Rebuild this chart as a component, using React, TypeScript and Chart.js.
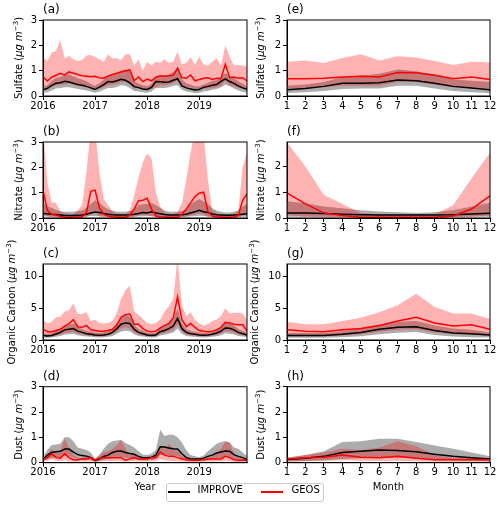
import React, { useEffect, useRef } from 'react';
import { Chart, registerables } from 'chart.js';

Chart.register(...registerables);

const FONT = "'DejaVu Sans', 'Liberation Sans', sans-serif";

// ---------- categories & ticks ----------
const seriesNames = ['IMPROVE', 'GEOS'];
const panelLabels = ['(a)', '(b)', '(c)', '(d)', '(e)', '(f)', '(g)', '(h)'];
const speciesNames = ['Sulfate', 'Nitrate', 'Organic Carbon', 'Dust'];
const xAxisTitles = ['Year', 'Month'];
const yearTicks = [2016, 2017, 2018, 2019];
const monthTicks = [1, 2, 3, 4, 5, 6, 7, 8, 9, 10, 11, 12];
const climMonths = [1, 2, 3, 4, 5, 6, 7, 8, 9, 10, 11, 12];
// monthly time axis Jan 2016 ... Dec 2019 (decimal years)
const monthlyYears = Array.from({ length: 48 }, (_, i) => 2016 + i / 12);
const ticks0to3 = [0, 1, 2, 3];
const ticks0to2 = [0, 1, 2];
const ticksOC = [0, 5, 10];

// ---------- (a) Sulfate monthly ----------
const sulfImpMed = [
  0.25, 0.30, 0.42, 0.50, 0.52, 0.58, 0.55, 0.50, 0.45, 0.42, 0.38, 0.32,
  0.26, 0.35, 0.45, 0.57, 0.55, 0.60, 0.66, 0.62, 0.52, 0.37, 0.33, 0.28,
  0.26, 0.34, 0.57, 0.56, 0.54, 0.55, 0.62, 0.68, 0.40, 0.32, 0.28, 0.24,
  0.26, 0.34, 0.38, 0.42, 0.45, 0.58, 0.68, 0.57, 0.50, 0.40, 0.32, 0.26,
];
const sulfImpLo = [
  0.12, 0.15, 0.22, 0.30, 0.32, 0.35, 0.35, 0.32, 0.28, 0.25, 0.22, 0.18,
  0.13, 0.18, 0.25, 0.32, 0.32, 0.36, 0.42, 0.40, 0.32, 0.20, 0.18, 0.15,
  0.13, 0.18, 0.32, 0.32, 0.32, 0.35, 0.40, 0.42, 0.25, 0.18, 0.15, 0.12,
  0.13, 0.18, 0.20, 0.25, 0.28, 0.35, 0.45, 0.38, 0.30, 0.22, 0.17, 0.13,
];
const sulfImpHi = [
  0.38, 0.42, 0.60, 0.72, 0.75, 0.85, 0.85, 0.78, 0.70, 0.65, 0.58, 0.48,
  0.40, 0.50, 0.65, 0.80, 0.80, 0.90, 1.00, 1.05, 0.95, 0.58, 0.50, 0.42,
  0.38, 0.48, 0.78, 0.80, 0.82, 0.85, 0.95, 1.05, 0.65, 0.50, 0.45, 0.38,
  0.38, 0.45, 0.52, 0.60, 0.62, 0.75, 0.90, 0.80, 0.72, 0.58, 0.48, 0.38,
];
const sulfGeosMed = [
  0.76, 0.59, 0.74, 0.82, 0.90, 0.83, 0.95, 0.90, 0.85, 0.80, 0.78, 0.76,
  0.78, 0.72, 0.70, 0.79, 0.85, 0.90, 0.95, 1.00, 1.03, 0.60, 0.75, 0.57,
  0.67, 0.60, 0.74, 0.80, 0.78, 0.80, 0.82, 1.10, 0.72, 0.70, 0.83, 0.60,
  0.65, 0.70, 0.72, 0.65, 0.70, 0.68, 1.25, 0.72, 0.75, 0.70, 0.72, 0.60,
];
const sulfGeosLo = [
  0.28, 0.25, 0.35, 0.42, 0.45, 0.45, 0.50, 0.45, 0.40, 0.38, 0.35, 0.32,
  0.30, 0.30, 0.35, 0.42, 0.45, 0.48, 0.55, 0.55, 0.50, 0.30, 0.32, 0.25,
  0.28, 0.28, 0.35, 0.42, 0.42, 0.45, 0.50, 0.60, 0.40, 0.32, 0.35, 0.25,
  0.28, 0.30, 0.30, 0.32, 0.35, 0.38, 0.60, 0.42, 0.38, 0.32, 0.30, 0.25,
];
const sulfGeosHi = [
  1.53, 1.38, 1.72, 1.78, 2.20, 1.48, 1.58, 1.45, 1.38, 1.42, 1.60, 1.62,
  1.55, 1.45, 1.35, 1.65, 1.48, 1.50, 1.40, 1.65, 1.65, 1.20, 1.45, 1.00,
  1.35, 1.20, 1.35, 1.30, 1.45, 1.30, 1.35, 1.75, 1.25, 1.30, 1.52, 1.22,
  1.55, 1.25, 1.20, 1.35, 1.50, 1.20, 2.00, 1.55, 1.20, 1.22, 1.20, 1.15,
];

// ---------- (b) Nitrate monthly ----------
const nitImpMed = [
  0.18, 0.17, 0.15, 0.14, 0.12, 0.10, 0.10, 0.10, 0.11, 0.12, 0.15, 0.20,
  0.24, 0.22, 0.18, 0.15, 0.13, 0.12, 0.12, 0.12, 0.13, 0.15, 0.18, 0.22,
  0.20, 0.25, 0.20, 0.17, 0.14, 0.12, 0.12, 0.12, 0.13, 0.15, 0.20, 0.25,
  0.30, 0.25, 0.22, 0.16, 0.13, 0.12, 0.11, 0.11, 0.12, 0.13, 0.15, 0.17,
];
const nitImpLo = [
  0.06, 0.06, 0.05, 0.05, 0.04, 0.03, 0.03, 0.03, 0.04, 0.05, 0.06, 0.08,
  0.08, 0.07, 0.06, 0.05, 0.04, 0.03, 0.03, 0.03, 0.04, 0.05, 0.06, 0.07,
  0.07, 0.08, 0.06, 0.05, 0.04, 0.03, 0.03, 0.03, 0.04, 0.05, 0.06, 0.08,
  0.09, 0.08, 0.06, 0.05, 0.04, 0.03, 0.03, 0.03, 0.04, 0.04, 0.05, 0.06,
];
const nitImpHi = [
  0.60, 0.45, 0.40, 0.32, 0.28, 0.25, 0.25, 0.25, 0.28, 0.30, 0.40, 0.55,
  0.70, 0.60, 0.45, 0.35, 0.30, 0.25, 0.25, 0.25, 0.28, 0.35, 0.50, 0.55,
  0.55, 0.60, 0.50, 0.40, 0.30, 0.25, 0.25, 0.25, 0.28, 0.35, 0.55, 0.65,
  0.75, 0.65, 0.55, 0.38, 0.30, 0.25, 0.22, 0.22, 0.25, 0.30, 0.45, 0.55,
];
const nitGeosMed = [
  1.10, 0.30, 0.15, 0.12, 0.06, 0.04, 0.03, 0.03, 0.04, 0.05, 0.20, 1.05,
  1.10, 0.40, 0.15, 0.08, 0.05, 0.04, 0.03, 0.03, 0.10, 0.35, 0.68, 0.70,
  0.78, 0.35, 0.08, 0.05, 0.04, 0.03, 0.03, 0.03, 0.15, 0.35, 0.60, 0.85,
  0.98, 1.02, 0.25, 0.08, 0.05, 0.04, 0.03, 0.03, 0.04, 0.10, 0.70, 0.95,
];
const nitGeosLo = [
  0.20, 0.05, 0.03, 0.02, 0.01, 0.01, 0.01, 0.01, 0.01, 0.01, 0.03, 0.15,
  0.20, 0.06, 0.03, 0.02, 0.01, 0.01, 0.01, 0.01, 0.02, 0.05, 0.10, 0.12,
  0.12, 0.06, 0.02, 0.01, 0.01, 0.01, 0.01, 0.01, 0.02, 0.05, 0.10, 0.15,
  0.18, 0.15, 0.04, 0.02, 0.01, 0.01, 0.01, 0.01, 0.01, 0.02, 0.10, 0.15,
];
const nitGeosHi = [
  3.50, 1.40, 0.60, 0.60, 0.25, 0.18, 0.15, 0.15, 0.30, 0.50, 1.80, 3.50,
  3.50, 1.80, 0.75, 0.50, 0.25, 0.18, 0.15, 0.15, 0.30, 0.90, 1.60, 2.20,
  2.55, 2.35, 1.00, 0.45, 0.22, 0.18, 0.15, 0.25, 0.60, 1.50, 2.60, 3.40,
  3.60, 3.30, 1.50, 0.30, 0.20, 0.15, 0.15, 0.15, 0.15, 0.30, 2.00, 2.60,
];

// ---------- (c) Organic carbon monthly ----------
const ocImpMed = [
  0.70, 0.65, 0.70, 0.95, 1.20, 1.60, 1.70, 1.80, 1.40, 1.20, 1.00, 0.90,
  0.80, 0.75, 0.80, 0.90, 1.20, 1.80, 2.50, 2.70, 2.60, 1.70, 1.20, 1.00,
  0.80, 0.70, 0.80, 1.30, 1.50, 1.80, 2.20, 3.40, 1.80, 1.20, 1.00, 0.90,
  0.80, 0.75, 0.80, 0.90, 1.10, 1.40, 1.90, 1.85, 1.60, 1.20, 1.00, 0.80,
];
const ocImpLo = [
  0.38, 0.35, 0.38, 0.52, 0.65, 0.88, 0.92, 0.98, 0.75, 0.65, 0.55, 0.50,
  0.45, 0.40, 0.45, 0.50, 0.65, 1.00, 1.35, 1.45, 1.40, 0.92, 0.65, 0.55,
  0.45, 0.38, 0.45, 0.70, 0.82, 1.00, 1.20, 1.80, 1.00, 0.65, 0.55, 0.50,
  0.45, 0.40, 0.45, 0.50, 0.60, 0.75, 1.05, 1.00, 0.88, 0.65, 0.55, 0.45,
];
const ocImpHi = [
  1.05, 1.00, 1.05, 1.40, 1.75, 2.30, 2.45, 2.60, 2.05, 1.75, 1.45, 1.30,
  1.20, 1.10, 1.20, 1.30, 1.75, 2.60, 3.60, 3.90, 3.70, 2.45, 1.75, 1.45,
  1.20, 1.05, 1.20, 1.90, 2.20, 2.60, 3.20, 5.00, 2.60, 1.75, 1.45, 1.30,
  1.20, 1.10, 1.20, 1.30, 1.60, 2.00, 2.70, 2.65, 2.30, 1.75, 1.45, 1.20,
];
const ocGeosMed = [
  1.70, 1.30, 1.30, 1.50, 1.70, 2.20, 2.60, 3.20, 2.10, 2.00, 2.30, 1.60,
  1.50, 1.40, 1.40, 1.50, 1.70, 2.40, 3.60, 4.00, 4.10, 2.50, 2.50, 1.80,
  1.40, 1.30, 1.40, 1.90, 2.30, 2.60, 3.50, 6.80, 3.20, 2.10, 2.60, 2.00,
  1.50, 1.40, 1.30, 1.40, 1.60, 2.00, 2.80, 2.70, 2.50, 2.40, 2.40, 1.40,
];
const ocGeosLo = [
  0.55, 0.50, 0.55, 0.70, 0.90, 1.10, 1.20, 1.30, 1.00, 0.90, 0.75, 0.65,
  0.60, 0.55, 0.60, 0.70, 0.90, 1.30, 1.80, 2.00, 1.90, 1.20, 0.90, 0.75,
  0.60, 0.55, 0.60, 0.95, 1.10, 1.30, 1.60, 2.50, 1.30, 0.90, 0.75, 0.65,
  0.60, 0.55, 0.60, 0.70, 0.80, 1.00, 1.40, 1.35, 1.20, 0.90, 0.75, 0.60,
];
const ocGeosHi = [
  3.20, 2.60, 2.90, 3.60, 3.70, 4.50, 4.70, 5.80, 4.10, 4.10, 4.40, 3.00,
  3.20, 2.70, 2.60, 2.70, 3.00, 4.30, 6.50, 7.80, 8.60, 4.50, 4.00, 3.30,
  2.70, 2.50, 2.70, 3.20, 4.50, 5.30, 6.50, 13.0, 5.50, 3.80, 4.40, 3.20,
  2.60, 2.30, 2.50, 3.00, 3.20, 3.80, 5.00, 4.20, 4.30, 4.30, 4.20, 3.20,
];

// ---------- (d) Dust monthly ----------
const dustImpMed = [
  0.14, 0.30, 0.40, 0.43, 0.45, 0.54, 0.54, 0.42, 0.32, 0.28, 0.26, 0.20,
  0.08, 0.15, 0.25, 0.30, 0.40, 0.45, 0.46, 0.40, 0.36, 0.33, 0.25, 0.20,
  0.20, 0.22, 0.30, 0.63, 0.62, 0.58, 0.55, 0.54, 0.35, 0.20, 0.16, 0.15,
  0.15, 0.18, 0.25, 0.30, 0.38, 0.42, 0.46, 0.45, 0.32, 0.25, 0.20, 0.12,
];
const dustImpLo = [
  0.07, 0.15, 0.20, 0.22, 0.22, 0.27, 0.27, 0.20, 0.15, 0.13, 0.12, 0.10,
  0.04, 0.07, 0.12, 0.15, 0.20, 0.22, 0.22, 0.20, 0.18, 0.15, 0.12, 0.10,
  0.10, 0.11, 0.15, 0.30, 0.30, 0.28, 0.27, 0.26, 0.17, 0.10, 0.08, 0.07,
  0.07, 0.09, 0.12, 0.15, 0.18, 0.20, 0.22, 0.22, 0.15, 0.12, 0.10, 0.06,
];
const dustImpHi = [
  0.25, 0.50, 0.70, 0.72, 0.75, 1.00, 1.00, 0.85, 0.60, 0.55, 0.50, 0.40,
  0.15, 0.30, 0.55, 0.75, 0.85, 0.88, 0.90, 0.78, 0.70, 0.60, 0.45, 0.32,
  0.30, 0.35, 0.50, 1.30, 1.05, 1.10, 1.10, 1.00, 0.80, 0.50, 0.30, 0.25,
  0.22, 0.28, 0.45, 0.60, 0.75, 0.82, 0.85, 0.80, 0.60, 0.55, 0.40, 0.25,
];
const dustGeosMed = [
  0.12, 0.20, 0.35, 0.20, 0.18, 0.35, 0.20, 0.12, 0.12, 0.15, 0.15, 0.20,
  0.10, 0.18, 0.20, 0.20, 0.20, 0.20, 0.20, 0.10, 0.15, 0.20, 0.15, 0.15,
  0.15, 0.20, 0.20, 0.42, 0.30, 0.25, 0.25, 0.20, 0.15, 0.12, 0.10, 0.10,
  0.10, 0.12, 0.15, 0.15, 0.15, 0.15, 0.25, 0.20, 0.12, 0.10, 0.10, 0.10,
];
const dustGeosLo = [
  0.05, 0.08, 0.15, 0.08, 0.06, 0.10, 0.06, 0.04, 0.04, 0.05, 0.05, 0.06,
  0.04, 0.06, 0.07, 0.07, 0.07, 0.07, 0.07, 0.04, 0.05, 0.07, 0.05, 0.05,
  0.05, 0.07, 0.07, 0.15, 0.10, 0.08, 0.08, 0.07, 0.05, 0.04, 0.03, 0.03,
  0.03, 0.04, 0.05, 0.05, 0.05, 0.05, 0.08, 0.07, 0.04, 0.03, 0.03, 0.03,
];
const dustGeosHi = [
  0.15, 0.30, 0.55, 0.40, 0.50, 0.95, 0.60, 0.30, 0.20, 0.20, 0.25, 0.25,
  0.15, 0.30, 0.40, 0.45, 0.55, 0.70, 0.90, 0.55, 0.30, 0.30, 0.25, 0.20,
  0.20, 0.20, 0.30, 0.60, 0.55, 0.75, 0.55, 0.45, 0.25, 0.20, 0.15, 0.15,
  0.15, 0.15, 0.20, 0.25, 0.35, 0.55, 0.85, 0.80, 0.35, 0.20, 0.15, 0.15,
];

// ---------- (e) Sulfate climatology ----------
const sulfClimImpMed = [0.25, 0.30, 0.38, 0.50, 0.50, 0.52, 0.63, 0.60, 0.50, 0.38, 0.32, 0.25];
const sulfClimImpLo = [0.12, 0.15, 0.20, 0.28, 0.30, 0.30, 0.40, 0.40, 0.30, 0.20, 0.15, 0.12];
const sulfClimImpHi = [0.40, 0.45, 0.55, 0.75, 0.80, 0.88, 1.05, 0.98, 0.85, 0.65, 0.60, 0.55];
const sulfClimGeosMed = [0.68, 0.68, 0.70, 0.75, 0.78, 0.75, 0.93, 0.92, 0.82, 0.68, 0.75, 0.65];
const sulfClimGeosLo = [0.30, 0.30, 0.35, 0.40, 0.40, 0.40, 0.55, 0.55, 0.45, 0.35, 0.35, 0.30];
const sulfClimGeosHi = [1.35, 1.40, 1.30, 1.50, 1.65, 1.40, 1.57, 1.52, 1.38, 1.22, 1.35, 1.32];

// ---------- (f) Nitrate climatology ----------
const nitClimImpMed = [0.20, 0.20, 0.18, 0.15, 0.13, 0.12, 0.12, 0.12, 0.12, 0.13, 0.16, 0.19];
const nitClimImpLo = [0.05, 0.05, 0.05, 0.04, 0.04, 0.03, 0.03, 0.03, 0.03, 0.04, 0.05, 0.05];
const nitClimImpHi = [0.65, 0.58, 0.45, 0.38, 0.30, 0.25, 0.22, 0.20, 0.22, 0.30, 0.45, 0.60];
const nitClimGeosMed = [0.98, 0.55, 0.20, 0.10, 0.03, 0.03, 0.03, 0.03, 0.03, 0.08, 0.35, 0.87];
const nitClimGeosLo = [0.12, 0.05, 0.02, 0.01, 0.01, 0.01, 0.01, 0.01, 0.01, 0.02, 0.05, 0.10];
const nitClimGeosHi = [2.95, 2.00, 0.90, 0.55, 0.20, 0.15, 0.15, 0.15, 0.15, 0.50, 1.55, 2.55];

// ---------- (g) OC climatology ----------
const ocClimImpMed = [0.70, 0.70, 0.70, 0.90, 1.20, 1.70, 2.00, 2.10, 1.50, 1.10, 1.00, 0.80];
const ocClimImpLo = [0.35, 0.35, 0.35, 0.45, 0.60, 0.90, 1.15, 1.25, 0.80, 0.55, 0.45, 0.38];
const ocClimImpHi = [1.10, 1.10, 1.10, 1.40, 1.80, 2.40, 2.90, 3.00, 2.30, 1.80, 1.60, 1.20];
const ocClimGeosMed = [1.60, 1.40, 1.30, 1.60, 1.80, 2.30, 3.00, 3.60, 2.70, 2.20, 2.40, 1.70];
const ocClimGeosLo = [0.60, 0.60, 0.60, 0.70, 0.90, 1.30, 1.60, 1.70, 1.20, 0.90, 0.80, 0.70];
const ocClimGeosHi = [2.90, 2.50, 2.50, 3.00, 3.50, 4.40, 5.50, 7.30, 5.20, 4.20, 4.20, 3.30];

// ---------- (h) Dust climatology ----------
const dustClimImpMed = [0.13, 0.18, 0.25, 0.40, 0.45, 0.50, 0.48, 0.43, 0.33, 0.25, 0.20, 0.15];
const dustClimImpLo = [0.05, 0.07, 0.10, 0.15, 0.18, 0.20, 0.20, 0.18, 0.14, 0.10, 0.08, 0.06];
const dustClimImpHi = [0.20, 0.30, 0.45, 0.82, 0.85, 0.95, 0.95, 0.82, 0.68, 0.55, 0.40, 0.25];
const dustClimGeosMed = [0.15, 0.20, 0.22, 0.30, 0.22, 0.20, 0.25, 0.18, 0.12, 0.12, 0.12, 0.12];
const dustClimGeosLo = [0.05, 0.06, 0.07, 0.10, 0.08, 0.07, 0.08, 0.06, 0.04, 0.04, 0.04, 0.04];
const dustClimGeosHi = [0.20, 0.30, 0.40, 0.55, 0.50, 0.60, 0.85, 0.65, 0.30, 0.20, 0.20, 0.18];

// ---------- styling / layout ----------
const BLACK = '#000000';
const RED = '#ff0000';
const GRAY_FILL = 'rgba(128,128,128,0.65)';
const RED_FILL = 'rgba(255,0,0,0.3)';
const COL_LEFT = [43, 287];
const COL_RIGHT = [247, 490];
const ROW_TOP = [20, 142, 264, 386.7];
const PLOT_H = 76;
const YAXIS_W = 30;
const XAXIS_H = 20;
const W = 500;
const H = 506;

type Panel = {
  row: number;
  col: number;
  xs: number[];
  xTicks: number[];
  xMin: number;
  xMax: number;
  yMax: number;
  yTicks: number[];
  impMed: number[];
  impLo: number[];
  impHi: number[];
  geosMed: number[];
  geosLo: number[];
  geosHi: number[];
};

const panels: Panel[] = [
  { row: 0, col: 0, xs: monthlyYears, xTicks: yearTicks, xMin: 2016, xMax: 2016 + 47 / 12, yMax: 3, yTicks: ticks0to3,
    impMed: sulfImpMed, impLo: sulfImpLo, impHi: sulfImpHi, geosMed: sulfGeosMed, geosLo: sulfGeosLo, geosHi: sulfGeosHi },
  { row: 1, col: 0, xs: monthlyYears, xTicks: yearTicks, xMin: 2016, xMax: 2016 + 47 / 12, yMax: 3, yTicks: ticks0to3,
    impMed: nitImpMed, impLo: nitImpLo, impHi: nitImpHi, geosMed: nitGeosMed, geosLo: nitGeosLo, geosHi: nitGeosHi },
  { row: 2, col: 0, xs: monthlyYears, xTicks: yearTicks, xMin: 2016, xMax: 2016 + 47 / 12, yMax: 12, yTicks: ticksOC,
    impMed: ocImpMed, impLo: ocImpLo, impHi: ocImpHi, geosMed: ocGeosMed, geosLo: ocGeosLo, geosHi: ocGeosHi },
  { row: 3, col: 0, xs: monthlyYears, xTicks: yearTicks, xMin: 2016, xMax: 2016 + 47 / 12, yMax: 3, yTicks: ticks0to3,
    impMed: dustImpMed, impLo: dustImpLo, impHi: dustImpHi, geosMed: dustGeosMed, geosLo: dustGeosLo, geosHi: dustGeosHi },
  { row: 0, col: 1, xs: climMonths, xTicks: monthTicks, xMin: 1, xMax: 12, yMax: 3, yTicks: ticks0to3,
    impMed: sulfClimImpMed, impLo: sulfClimImpLo, impHi: sulfClimImpHi, geosMed: sulfClimGeosMed, geosLo: sulfClimGeosLo, geosHi: sulfClimGeosHi },
  { row: 1, col: 1, xs: climMonths, xTicks: monthTicks, xMin: 1, xMax: 12, yMax: 2.97, yTicks: ticks0to2,
    impMed: nitClimImpMed, impLo: nitClimImpLo, impHi: nitClimImpHi, geosMed: nitClimGeosMed, geosLo: nitClimGeosLo, geosHi: nitClimGeosHi },
  { row: 2, col: 1, xs: climMonths, xTicks: monthTicks, xMin: 1, xMax: 12, yMax: 12, yTicks: ticksOC,
    impMed: ocClimImpMed, impLo: ocClimImpLo, impHi: ocClimImpHi, geosMed: ocClimGeosMed, geosLo: ocClimGeosLo, geosHi: ocClimGeosHi },
  { row: 3, col: 1, xs: climMonths, xTicks: monthTicks, xMin: 1, xMax: 12, yMax: 3, yTicks: ticks0to3,
    impMed: dustClimImpMed, impLo: dustClimImpLo, impHi: dustClimImpHi, geosMed: dustClimGeosMed, geosLo: dustClimGeosLo, geosHi: dustClimGeosHi },
];

function makeDecor(p: Panel, index: number) {
  return {
    id: 'decor' + index,
    afterDraw(chart: any) {
      const { ctx, chartArea: a } = chart;
      ctx.save();
      ctx.strokeStyle = BLACK;
      ctx.lineWidth = 1;
      ctx.strokeRect(a.left, a.top, a.right - a.left, a.bottom - a.top);

      ctx.fillStyle = BLACK;
      ctx.font = `12px ${FONT}`;
      ctx.textAlign = 'left';
      ctx.textBaseline = 'middle';
      ctx.fillText(panelLabels[index], a.left, a.top - 10);

      // y-axis title with mathtext-like unit
      const parts = [
        { t: speciesNames[p.row] + ' (', f: `10px ${FONT}`, dy: 0 },
        { t: 'μg m', f: `italic 10px ${FONT}`, dy: 0 },
        { t: '−3', f: `7px ${FONT}`, dy: -4 },
        { t: ')', f: `10px ${FONT}`, dy: 0 },
      ];
      let total = 0;
      const widths = parts.map((pt) => {
        ctx.font = pt.f;
        const w = ctx.measureText(pt.t).width;
        total += w;
        return w;
      });
      const offset = (p.col === 0 ? 25 : 26.5) + (p.yMax > 5 ? 6.5 : 0);
      const cx = a.left - offset;
      const cy = (a.top + a.bottom) / 2;
      ctx.translate(cx, cy);
      ctx.rotate(-Math.PI / 2);
      ctx.textAlign = 'left';
      ctx.textBaseline = 'alphabetic';
      let x = -total / 2;
      parts.forEach((pt, i) => {
        ctx.font = pt.f;
        ctx.fillText(pt.t, x, 3.5 + pt.dy);
        x += widths[i];
      });
      ctx.setTransform(1, 0, 0, 1, 0, 0);

      if (p.row === 3) {
        ctx.font = `10px ${FONT}`;
        ctx.textAlign = 'center';
        ctx.textBaseline = 'middle';
        ctx.fillText(xAxisTitles[p.col], (a.left + a.right) / 2, a.bottom + 24.5);
      }
      ctx.restore();
    },
  };
}

const pts = (xs: number[], ys: number[]) => xs.map((x, i) => ({ x, y: ys[i] }));

function axisCommon(min: number, max: number, tickVals: number[], isX: boolean) {
  return {
    type: 'linear' as const,
    min,
    max,
    afterBuildTicks: (s: any) => {
      s.ticks = tickVals.map((v) => ({ value: v }));
    },
    afterFit: (s: any) => {
      if (isX) s.height = XAXIS_H;
      else s.width = YAXIS_W;
    },
    grid: { display: true, drawOnChartArea: false, drawTicks: true, tickLength: 4, color: BLACK, lineWidth: 1 },
    border: { display: true, color: BLACK, width: 1 },
    ticks: {
      padding: isX ? 1 : 2,
      color: BLACK,
      autoSkip: false,
      maxRotation: 0,
      font: { family: FONT, size: 10, lineHeight: 1 },
      callback: (v: any) => String(v),
    },
  };
}

function PanelChart({ p, index }: { p: Panel; index: number }) {
  const ref = useRef<HTMLCanvasElement>(null);
  useEffect(() => {
    const canvas = ref.current;
    if (!canvas) return;
    const top = ROW_TOP[p.row];
    const bottom = top + PLOT_H;
    const hidden = 'rgba(0,0,0,0)';
    const chart = new Chart(canvas, {
      type: 'line',
      data: {
        datasets: [
          { label: 'impLo', data: pts(p.xs, p.impLo), borderColor: hidden, borderWidth: 1, pointRadius: 0, fill: false, order: 3 },
          { label: 'impHi', data: pts(p.xs, p.impHi), borderColor: hidden, borderWidth: 1, pointRadius: 0, backgroundColor: GRAY_FILL, fill: '-1', order: 3 },
          { label: 'geosLo', data: pts(p.xs, p.geosLo), borderColor: hidden, borderWidth: 1, pointRadius: 0, fill: false, order: 2 },
          { label: 'geosHi', data: pts(p.xs, p.geosHi), borderColor: hidden, borderWidth: 1, pointRadius: 0, backgroundColor: RED_FILL, fill: '-1', order: 2 },
          { label: seriesNames[0], data: pts(p.xs, p.impMed), borderColor: BLACK, borderWidth: 1.5, pointRadius: 0, fill: false, order: 1 },
          { label: seriesNames[1], data: pts(p.xs, p.geosMed), borderColor: RED, borderWidth: 1.5, pointRadius: 0, fill: false, order: 0 },
        ] as any,
      },
      options: {
        responsive: false,
        animation: false,
        devicePixelRatio: 1,
        events: [],
        layout: {
          padding: {
            left: COL_LEFT[p.col] - YAXIS_W,
            right: W - COL_RIGHT[p.col],
            top: top,
            bottom: H - bottom - XAXIS_H,
          },
        },
        elements: { line: { tension: 0 } },
        plugins: { legend: { display: false }, tooltip: { enabled: false } },
        scales: {
          x: axisCommon(p.xMin, p.xMax, p.xTicks, true) as any,
          y: axisCommon(0, p.yMax, p.yTicks, false) as any,
        },
      },
      plugins: [makeDecor(p, index)],
    });
    return () => chart.destroy();
  }, [p, index]);
  return (
    <canvas
      ref={ref}
      width={W}
      height={H}
      style={{ position: 'absolute', left: 0, top: 0, width: W, height: H }}
    />
  );
}

export default function App() {
  const legendText = { position: 'absolute' as const, top: 484, height: 16, lineHeight: '16px', font: `10px ${FONT}`, color: '#000', whiteSpace: 'nowrap' as const };
  return (
    <div style={{ position: 'fixed', left: 0, top: 0, width: W, height: H, background: '#fff', overflow: 'hidden' }}>
      {panels.map((p, i) => (
        <PanelChart key={i} p={p} index={i} />
      ))}
      <div style={{ position: 'absolute', left: 165.5, top: 482.5, width: 158, height: 19.5, boxSizing: 'border-box', border: '1px solid #cccccc', borderRadius: 3, background: 'rgba(255,255,255,0.8)' }} />
      <div style={{ position: 'absolute', left: 168, top: 491, width: 22, height: 1.5, background: BLACK }} />
      <div style={{ ...legendText, left: 197.5 }}>{seriesNames[0]}</div>
      <div style={{ position: 'absolute', left: 261, top: 491, width: 22, height: 1.5, background: RED }} />
      <div style={{ ...legendText, left: 291.5 }}>{seriesNames[1]}</div>
    </div>
  );
}
